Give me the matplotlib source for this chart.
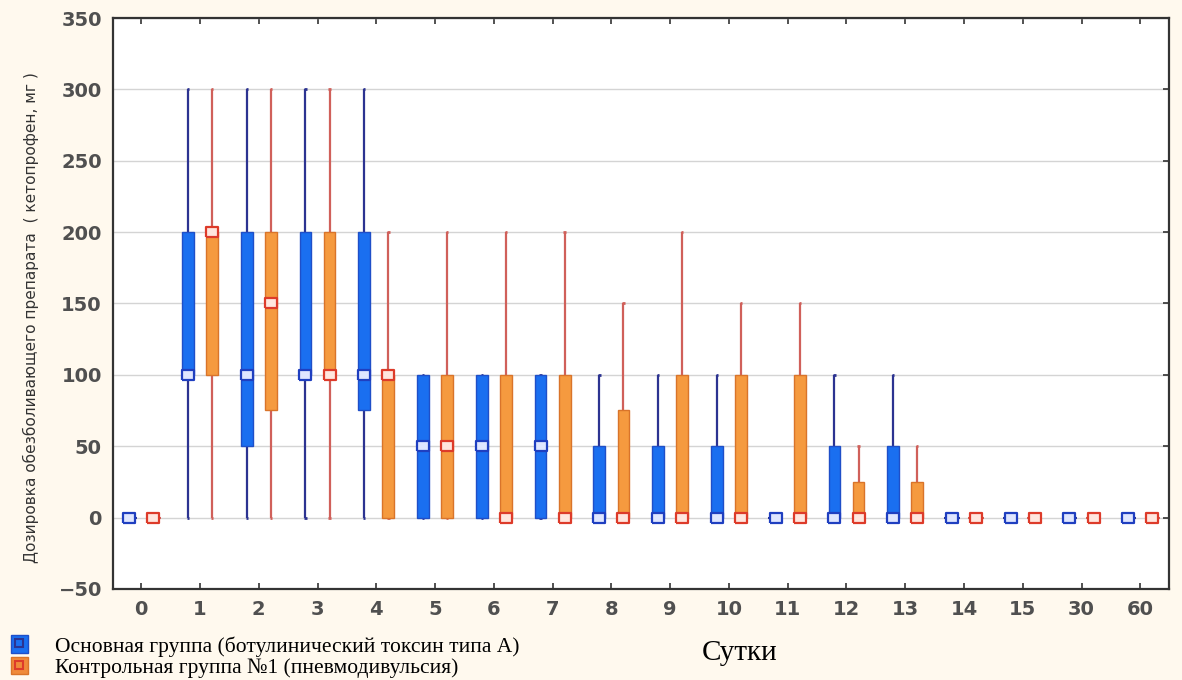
import matplotlib.pyplot as plt
from matplotlib.patches import Patch
from matplotlib.lines import Line2D
import numpy as np

days = ['0', '1', '2', '3', '4', '5', '6', '7', '8', '9', '10', '11', '12', '13', '14', '15', '30', '60']

# основная группа (ботулинический токсин)
main_med = [0, 100, 100, 100, 100, 50, 50, 50, 0, 0, 0, 0, 0, 0, 0, 0, 0, 0]
main_q1 = [0, 100, 50, 100, 75, 0, 0, 0, 0, 0, 0, 0, 0, 0, 0, 0, 0, 0]
main_q3 = [0, 200, 200, 200, 200, 100, 100, 100, 50, 50, 50, 0, 50, 50, 0, 0, 0, 0]
main_min = [0, 0, 0, 0, 0, 0, 0, 0, 0, 0, 0, 0, 0, 0, 0, 0, 0, 0]
main_max = [0, 300, 300, 300, 300, 100, 100, 100, 100, 100, 100, 0, 100, 100, 0, 0, 0, 0]

# контрольная группа №1 (пневмодивульсия)
ctrl_med = [0, 200, 150, 100, 100, 50, 0, 0, 0, 0, 0, 0, 0, 0, 0, 0, 0, 0]
ctrl_q1 = [0, 100, 75, 100, 0, 0, 0, 0, 0, 0, 0, 0, 0, 0, 0, 0, 0, 0]
ctrl_q3 = [0, 200, 200, 200, 100, 100, 100, 100, 75, 100, 100, 100, 25, 25, 0, 0, 0, 0]
ctrl_min = [0, 0, 0, 0, 0, 0, 0, 0, 0, 0, 0, 0, 0, 0, 0, 0, 0, 0]
ctrl_max = [0, 300, 300, 300, 200, 200, 200, 200, 150, 200, 150, 150, 50, 50, 0, 0, 0, 0]

bg = '#fff9ee'
fig = plt.figure(figsize=(11.82, 6.80), dpi=100, facecolor=bg)
ax = fig.add_axes([0.0956, 0.134, 0.893, 0.8395])
ax.set_facecolor('white')

x = np.arange(len(days))
off = 0.205
w = 0.2

# прямоугольный маркер медианы
rect = [(-1.35, -1), (1.35, -1), (1.35, 1), (-1.35, 1), (-1.35, -1)]

groups = [
    (main_med, main_q1, main_q3, main_min, main_max, -off, '#1a6ff0', '#1f4fc8', '#2c3391', '#1f3fc0', '#dfe6ff'),
    (ctrl_med, ctrl_q1, ctrl_q3, ctrl_min, ctrl_max, off, '#f59a3f', '#d9742a', '#d0605a', '#dd3b2a', '#ffe6de'),
]
for med, q1, q3, lo, hi, dx, fc, ec, wc, mc, mf in groups:
    med, q1, q3, lo, hi = map(np.array, (med, q1, q3, lo, hi))
    xs = x + dx
    ax.vlines(xs, lo, hi, color=wc, lw=1.6, zorder=2)
    ax.hlines(hi, xs - 0.02, xs + 0.02, color=wc, lw=2, zorder=2)
    ax.hlines(lo, xs - 0.02, xs + 0.02, color=wc, lw=2, zorder=2)
    ax.bar(xs, q3 - q1, bottom=q1, width=w, color=fc, edgecolor=ec, lw=1, zorder=3)
    flat = q3 == q1
    ax.hlines(q1[flat], xs[flat] - w / 2 - 0.03, xs[flat] + w / 2 + 0.03, color=wc, lw=1.5, zorder=3)
    ax.plot(xs, med, ls='none', marker=rect, ms=9, mfc=mf, mec=mc, mew=1.6, zorder=4)

ax.set_xlim(-0.48, 17.48)
ax.set_ylim(-50, 350)
ax.set_yticks(np.arange(-50, 351, 50))
ax.set_xticks(x)
ax.set_xticklabels(days)
ax.yaxis.grid(True, color='#d4d4d4', lw=1)
ax.set_axisbelow(True)
ax.tick_params(direction='in', length=4, width=1.2, top=True, right=True, color='#333333',
               labelsize=14, labelcolor='#505050', pad=8)
ax.tick_params(axis='y', which='both', left=False)
for lbl in ax.get_xticklabels() + ax.get_yticklabels():
    lbl.set_fontweight('bold')
for s in ax.spines.values():
    s.set_linewidth(1.6)
    s.set_color('#333333')

ax.set_ylabel('Дозировка обезболивающего препарата  ( кетопрофен, мг )', fontsize=11.1,
              color='#333333', labelpad=14)
ax.yaxis.set_label_coords(-0.07, 0.475)

fig.text(0.626, 0.04, 'Сутки', family='Liberation Serif', fontsize=21, ha='center', va='center')

handles = [
    (Patch(facecolor='#1a6ff0', edgecolor='#1f4fc8'),
     Line2D([], [], ls='none', marker='s', ms=6, mfc='#1a6ff0', mec='#2c3391', mew=1.5)),
    (Patch(facecolor='#f08a3a', edgecolor='#d9742a'),
     Line2D([], [], ls='none', marker='s', ms=6, mfc='#f08a3a', mec='#dd3b2a', mew=1.5)),
]
labels = ['Основная группа (ботулинический токсин типа А)',
          'Контрольная группа №1 (пневмодивульсия)']
fig.legend(handles, labels, loc='lower left', bbox_to_anchor=(-0.002, -0.016), frameon=False,
           prop={'family': 'Liberation Serif', 'size': 15.5}, handlelength=0.8, handleheight=0.9,
           handletextpad=1.25, labelspacing=0.0, borderaxespad=0.2)

fig.savefig('out.png', dpi=100, facecolor=bg)
